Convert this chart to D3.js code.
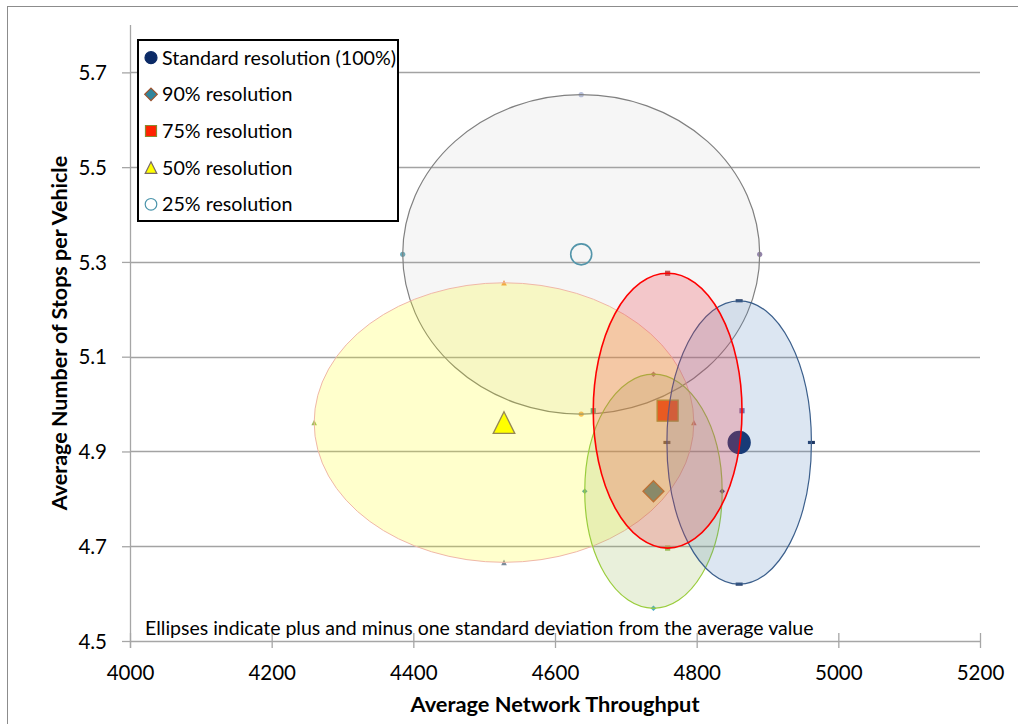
<!DOCTYPE html>
<html>
<head>
<meta charset="utf-8">
<script src="https://cdn.jsdelivr.net/npm/d3@7"></script>
<style>
  html, body { margin: 0; padding: 0; background: #ffffff; }
  svg { display: block; }
  text { font-family: Lato, "Open Sans", sans-serif; fill: #000; }
</style>
</head>
<body>
<svg id="chart" width="1018" height="724"></svg>
<script>
// ---- data -------------------------------------------------------------
const seriesNames = [
  "Standard resolution (100%)",
  "90% resolution",
  "75% resolution",
  "50% resolution",
  "25% resolution"
];
const meanThroughput = [4860, 4739, 4759, 4528, 4637];
const sdThroughput   = [102, 97, 105, 268, 252];
const meanStops      = [4.919, 4.816, 4.986, 4.961, 5.316];
const sdStops        = [0.299, 0.247, 0.290, 0.295, 0.337];

const xTicks = [4000, 4200, 4400, 4600, 4800, 5000, 5200];
const yTicks = [4.5, 4.7, 4.9, 5.1, 5.3, 5.5, 5.7];

const xTitle = "Average Network Throughput";
const yTitle = "Average Number of Stops per Vehicle";
const noteText = "Ellipses indicate plus and minus one standard deviation from the average value";

// ---- styling per series ----------------------------------------------
const markerShape = ["circle", "diamond", "square", "triangle", "ring"];
const markerFill   = ["#0b2a66", "#31859c", "#ff2200", "#ffff00", "none"];
const markerStroke = ["#0b2a66", "#a0522d", "#8a8a30", "#7a6a6a", "#4a94ab"];
const ellipseFill   = ["rgba(79,129,189,0.20)", "rgba(155,187,89,0.22)", "rgba(235,60,70,0.25)",
                       "rgba(255,255,0,0.20)", "rgba(170,170,170,0.10)"];
const ellipseStroke = ["#3b5f8c", "#9acd3c", "#ff0000", "#f0b8a8", "#808080"];
const ellipseWidth  = [1.2, 1.2, 1.6, 1.0, 1.2];
// small marks at the four +/- one standard deviation points: top, right, bottom, left
const extremeColors = [
  ["#1f3864", "#1f3864", "#1f3864", "#4a4040"],
  ["#a06a80", "#3a3a6a", "#4bacc6", "#4aa0a8"],
  ["#c0504d", "#8064a2", "#9bbb59", "#4a9a8a"],
  ["#f79646", "#d07060", "#7a8a9a", "#9bbb59"],
  ["#b8c0dc", "#9484ac", "#f9b060", "#6aaab8"]
];
const drawOrder = [4, 3, 1, 0, 2];

// ---- layout -----------------------------------------------------------
const svg = d3.select("#chart");
const x = d3.scaleLinear().domain([4000, 5200]).range([130, 980]);
const y = d3.scaleLinear().domain([4.5, 5.8]).range([641, 25]);

// chart frame
svg.append("rect")
  .attr("x", 7.5).attr("y", 6.5).attr("width", 1030).attr("height", 740)
  .attr("fill", "#fff").attr("stroke", "#8c8c8c").attr("stroke-width", 1);

// horizontal gridlines
svg.append("g").selectAll("line")
  .data(yTicks.filter(v => v > 4.5))
  .join("line")
  .attr("x1", x(4000)).attr("x2", x(5200))
  .attr("y1", d => Math.round(y(d)) + 0.5).attr("y2", d => Math.round(y(d)) + 0.5)
  .attr("stroke", "#a3a3a3").attr("stroke-width", 1.3);

// symbol paths
function shapePath(kind, s) {
  // s = half-size of the bounding box
  switch (kind) {
    case "circle":
    case "ring":
      return d3.symbol(d3.symbolCircle, Math.PI * s * s)();
    case "square":
      return `M${-s},${-s}H${s}V${s}H${-s}Z`;
    case "diamond":
      return `M0,${-s}L${s},0L0,${s}L${-s},0Z`;
    case "triangle":
      return `M0,${-s}L${s},${s}L${-s},${s}Z`;
    case "dash":
      return `M${-s},${-s * 0.45}H${s}V${s * 0.45}H${-s}Z`;
  }
}

// extreme-point marks and mean markers (ellipses are layered over them)
const smallKind = ["dash", "diamond", "square", "triangle", "circle"];
const smallSize = [3.5, 2.8, 2.6, 2.8, 2.6];
const marks = svg.append("g");
seriesNames.forEach((name, i) => {
  const mx = meanThroughput[i], my = meanStops[i];
  const pts = [
    [mx, my + sdStops[i]],
    [mx + sdThroughput[i], my],
    [mx, my - sdStops[i]],
    [mx - sdThroughput[i], my]
  ];
  marks.append("g").selectAll("path")
    .data(pts)
    .join("path")
    .attr("transform", d => `translate(${x(d[0])},${y(d[1])})`)
    .attr("d", shapePath(smallKind[i], smallSize[i]))
    .attr("fill", (d, k) => extremeColors[i][k]);
});

const bigSize = [11, 10.5, 10.5, 10.8, 10.5];
seriesNames.forEach((name, i) => {
  marks.append("path")
    .attr("transform", `translate(${x(meanThroughput[i])},${y(meanStops[i])})`)
    .attr("d", shapePath(markerShape[i], bigSize[i]))
    .attr("fill", markerShape[i] === "ring" ? "none" : markerFill[i])
    .attr("stroke", markerStroke[i])
    .attr("stroke-width", markerShape[i] === "ring" ? 1.6 : 1.3);
});

// standard deviation ellipses
svg.append("g").selectAll("ellipse")
  .data(drawOrder)
  .join("ellipse")
  .attr("cx", i => x(meanThroughput[i]))
  .attr("cy", i => y(meanStops[i]))
  .attr("rx", i => x(meanThroughput[i] + sdThroughput[i]) - x(meanThroughput[i]))
  .attr("ry", i => y(meanStops[i]) - y(meanStops[i] + sdStops[i]))
  .attr("fill", i => ellipseFill[i])
  .attr("stroke", i => ellipseStroke[i])
  .attr("stroke-width", i => ellipseWidth[i]);

// axes
const axisColor = "#a6a6a6";
const xAxis = svg.append("g").attr("transform", `translate(0,${y(4.5)})`)
  .call(d3.axisBottom(x).tickValues(xTicks).tickSize(0).tickPadding(0).tickFormat(d3.format("d")));
xAxis.select(".domain").remove();
xAxis.append("line").attr("x1", x(4000)).attr("x2", x(5200)).attr("y1", 0.5).attr("y2", 0.5)
  .attr("stroke", axisColor).attr("stroke-width", 1.3);
xAxis.selectAll(".tick").append("line").attr("y1", -8).attr("y2", 7)
  .attr("stroke", axisColor).attr("stroke-width", 1.3);
xAxis.selectAll(".tick text")
  .attr("y", 39).attr("dy", null)
  .style("font-size", "20.5px").attr("fill", "#000");

const yAxis = svg.append("g").attr("transform", `translate(${x(4000)},0)`)
  .call(d3.axisLeft(y).tickValues(yTicks).tickSize(0).tickPadding(0).tickFormat(d3.format(".1f")));
yAxis.select(".domain").remove();
yAxis.append("line").attr("x1", 0.5).attr("x2", 0.5).attr("y1", y(5.8)).attr("y2", y(4.5) + 7)
  .attr("stroke", axisColor).attr("stroke-width", 1.3);
yAxis.selectAll(".tick").append("line").attr("x1", -8).attr("x2", 0)
  .attr("stroke", axisColor).attr("stroke-width", 1.3);
yAxis.selectAll(".tick text")
  .attr("x", -23).attr("dy", "0.35em")
  .style("font-size", "20.5px").attr("fill", "#000");

// axis titles
svg.append("text")
  .attr("x", (x(4000) + x(5200)) / 2).attr("y", 712)
  .attr("text-anchor", "middle")
  .style("font-size", "21.8px").style("font-weight", "bold")
  .text(xTitle);
svg.append("text")
  .attr("transform", `translate(67,${(y(4.5) + y(5.8)) / 2}) rotate(-90)`)
  .attr("text-anchor", "middle")
  .style("font-size", "21.5px").style("font-weight", "bold")
  .text(yTitle);

// note inside the plot
svg.append("text")
  .attr("x", 145).attr("y", 635)
  .style("font-size", "19.5px")
  .text(noteText);

// legend
const legend = svg.append("g");
legend.append("rect")
  .attr("x", 138).attr("y", 40).attr("width", 260).attr("height", 181)
  .attr("fill", "#fff").attr("stroke", "#000").attr("stroke-width", 2);
const legendSize = [6, 6.3, 5.5, 5.8, 5.8];
seriesNames.forEach((name, i) => {
  const cy = 57.7 + i * 36.65;
  legend.append("path")
    .attr("transform", `translate(151,${cy})`)
    .attr("d", shapePath(markerShape[i], legendSize[i]))
    .attr("fill", markerShape[i] === "ring" ? "#fff" : markerFill[i])
    .attr("stroke", markerStroke[i])
    .attr("stroke-width", 1.2);
  legend.append("text")
    .attr("x", 162).attr("y", cy).attr("dy", "0.35em")
    .style("font-size", "19.7px")
    .text(name);
});
</script>
</body>
</html>
